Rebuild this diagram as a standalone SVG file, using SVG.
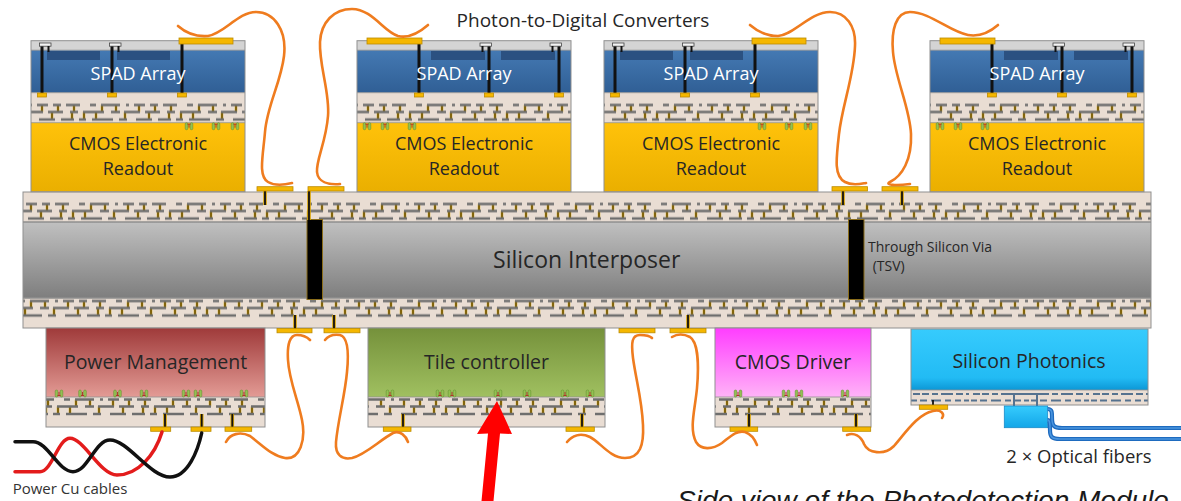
<svg xmlns="http://www.w3.org/2000/svg" width="1181" height="501" viewBox="0 0 1181 501">
<style>
.lbl{font-family:'Open Sans','Noto Sans',sans-serif;fill:#262626;text-anchor:middle}
.spad{fill:#fff;font-size:18px}
.cmos{font-size:18px}
.chip{font-size:19.5px}
.edge{fill:none;stroke:#8f8f8f;stroke-width:1}
.sep{stroke:#8f8f8f;stroke-width:0.8;fill:none}
.beige{fill:#e9ddd3}
.pad{fill:#f5b700;stroke:#bb8a00;stroke-width:0.8}
.leadY{stroke:#d9a300;stroke-width:3.6;fill:none}
.lead{stroke:#111;stroke-width:1.8;fill:none}
.bond{fill:none;stroke:#ef7c1f;stroke-width:2.6;stroke-linecap:round;stroke-linejoin:round}
.spot{fill:#2b5181}
.tsv{fill:#000;stroke:#8a6d1a;stroke-width:1}
</style>
<defs>
  <linearGradient id="gSpad" x1="0" y1="0" x2="0" y2="1"><stop offset="0" stop-color="#4479b3"/><stop offset="1" stop-color="#305f95"/></linearGradient>
  <linearGradient id="gCmos" x1="0" y1="0" x2="0" y2="1"><stop offset="0" stop-color="#ffc20a"/><stop offset="1" stop-color="#eaaf00"/></linearGradient>
  <linearGradient id="gSi" x1="0" y1="0" x2="0" y2="1"><stop offset="0" stop-color="#c0c0c0"/><stop offset="1" stop-color="#7e7e7e"/></linearGradient>
  <linearGradient id="gPM" x1="0" y1="0" x2="0" y2="1"><stop offset="0" stop-color="#9f3a3a"/><stop offset="1" stop-color="#e39b95"/></linearGradient>
  <linearGradient id="gTC" x1="0" y1="0" x2="0" y2="1"><stop offset="0" stop-color="#75913b"/><stop offset="1" stop-color="#a0c060"/></linearGradient>
  <linearGradient id="gCD" x1="0" y1="0" x2="0" y2="1"><stop offset="0" stop-color="#ff3dff"/><stop offset="1" stop-color="#ffb3f7"/></linearGradient>
  <linearGradient id="gSP" x1="0" y1="0" x2="0" y2="1"><stop offset="0" stop-color="#36cbfd"/><stop offset="0.8" stop-color="#22bbf4"/><stop offset="1" stop-color="#0c97d6"/></linearGradient>
  <linearGradient id="gCpl" x1="0" y1="0" x2="0" y2="1"><stop offset="0" stop-color="#36cbfd"/><stop offset="1" stop-color="#12a6e8"/></linearGradient>

  <!-- metal routing layers: three rows of traces with vias between them -->
  <pattern id="wp" width="97" height="30" patternUnits="userSpaceOnUse">
    <path d="M8 2.5V9.5M24 2.5V9.5M40 2.5V9.5M68 2.5V9.5M82 2.5V9.5M18 9.5V17M38 9.5V17M50 9.5V17M62 9.5V17M91 9.5V17" stroke="#d9a300" stroke-width="2.4"/>
    <path d="M8 2.5V9.5M24 2.5V9.5M40 2.5V9.5M68 2.5V9.5M82 2.5V9.5M18 9.5V17M38 9.5V17M50 9.5V17M62 9.5V17M91 9.5V17" stroke="#1a1a1a" stroke-width="0.9"/>
    <path d="M3 2.5H14M19 2.5H27M32 2.5H46M56 2.5H62M67 2.5H86M92 2.5H95M0 9.5H9M14 9.5H29M36 9.5H44M49 9.5H70M77 9.5H86M90 9.5H97M5 17H21M27 17H40M45 17H52M58 17H79M85 17H93" stroke="#6e6e6e" stroke-width="2.6"/>
  </pattern>
  <pattern id="wTile" href="#wp" x="3" y="102.5"/>
  <pattern id="wTop" href="#wp" x="23" y="201.5"/>
  <pattern id="wBot" href="#wp" x="60" y="298.5"/>
  <pattern id="wChip" href="#wp" x="8" y="397"/>
  <pattern id="wSp" width="60" height="15" patternUnits="userSpaceOnUse" x="911" y="390">
    <path d="M2 4H9M11 4H18M21 4H27M30 4H42M45 4H52M55 4H58M0 10.5H6M9 10.5H16M20 10.5H30M34 10.5H40M44 10.5H50M53 10.5H58" stroke="#55728f" stroke-width="2"/>
  </pattern>

  <!-- micro-bump -->
  <g id="bump">
    <rect x="-3.8" y="0" width="2.6" height="7" rx="1.2" fill="#93c052" stroke="#5d8c2e" stroke-width="0.5"/>
    <rect x="1.2" y="0" width="2.6" height="7" rx="1.2" fill="#93c052" stroke="#5d8c2e" stroke-width="0.5"/>
    <path d="M-1.6 1.5H1.6M0 1.5V5" stroke="#b0392a" stroke-width="1"/>
  </g>
  <!-- through-sensor via with landing pad -->
  <g id="via">
    <path d="M0 44V93" stroke="#111" stroke-width="3"/>
    <rect x="-4.5" y="93" width="9" height="4" class="pad"/>
  </g>
  <g id="cap">
    <rect x="-2.5" y="43" width="11.5" height="3.2" fill="#f4f4f4" stroke="#444" stroke-width="0.8"/>
    <path d="M6.5 46V52" stroke="#111" stroke-width="2"/>
  </g>
  <!-- photon-to-digital converter stack -->
  <g id="pdcBody">
    <rect y="40.7" width="214" height="9.5" fill="#d4d4d4"/>
    <rect y="50.2" width="214" height="42.5" fill="url(#gSpad)"/>
    <rect y="92.7" width="214" height="30" class="beige"/>
    <rect y="92.7" width="214" height="30" fill="url(#wTile)"/>
    <rect y="122.7" width="214" height="69" fill="url(#gCmos)"/>
    <path d="M0 50.2H214M0 92.7H214M0 122.7H214" class="sep"/>
    <rect y="40.7" width="214" height="151" class="edge"/>
  </g>
</defs>

<rect width="1181" height="501" fill="#fff"/>

<!-- silicon interposer -->
<g id="interposer">
  <rect x="23" y="192" width="1128" height="30" class="beige"/>
  <rect x="23" y="192" width="1128" height="30" fill="url(#wTop)"/>
  <rect x="23" y="222" width="1128" height="76" fill="url(#gSi)"/>
  <rect x="23" y="298" width="1128" height="30" class="beige"/>
  <rect x="23" y="298" width="1128" height="30" fill="url(#wBot)"/>
  <path d="M23 222H1151M23 298H1151" stroke="#8f8f8f" stroke-width="1.5"/>
  <rect x="23" y="192" width="1128" height="136" class="edge"/>
  <rect x="307" y="219.5" width="15.5" height="80" class="tsv"/>
  <rect x="848.5" y="219.5" width="15.5" height="80" class="tsv"/>
  <path d="M265 191V205M309 191V220M843 191V205M902 191V205M295 315V329M334 315V329M688 315V329" class="leadY"/>
  <path d="M265 191V205M309 191V220M843 191V205M902 191V205M295 315V329M334 315V329M688 315V329" class="lead"/>
  <rect x="257" y="186.7" width="36" height="4.3" class="pad"/>
  <rect x="308" y="186.7" width="36" height="4.3" class="pad"/>
  <rect x="832" y="186.7" width="35.5" height="4.3" class="pad"/>
  <rect x="882" y="186.7" width="36" height="4.3" class="pad"/>
  <rect x="277" y="328.5" width="35" height="4.3" class="pad"/>
  <rect x="324" y="328.5" width="36" height="4.3" class="pad"/>
  <rect x="619" y="328.5" width="36" height="4.3" class="pad"/>
  <rect x="670" y="328.5" width="36" height="4.3" class="pad"/>
  <text class="lbl" x="586.7" y="268.3" font-size="23">Silicon Interposer</text>
  <text class="lbl" x="868" y="251.7" font-size="14" style="text-anchor:start">Through Silicon Via</text>
  <text class="lbl" x="872.7" y="271" font-size="14" style="text-anchor:start">(TSV)</text>
</g>

<!-- photon-to-digital converters -->
<g id="pdc-1" transform="translate(31,0)">
  <use href="#pdcBody"/>
  <rect x="16" y="51" width="53" height="9" class="spot"/>
  <rect x="86" y="51" width="53" height="9" class="spot"/>
  <use href="#via" x="11"/><use href="#cap" x="11"/>
  <use href="#via" x="81"/><use href="#cap" x="81"/>
  <use href="#via" x="151"/>
  <rect x="148" y="38" width="54" height="6" class="pad"/>
  <use href="#bump" transform="translate(158,122.7)"/>
  <use href="#bump" transform="translate(185,122.7)"/>
  <use href="#bump" transform="translate(204,122.7)"/>
  <text class="lbl spad" x="107" y="80">SPAD Array</text>
  <text class="lbl cmos" x="107" y="150">CMOS Electronic</text>
  <text class="lbl cmos" x="107" y="175">Readout</text>
</g>
<g id="pdc-2" transform="translate(357,0)">
  <use href="#pdcBody"/>
  <rect x="74" y="51" width="54" height="9" class="spot"/>
  <rect x="144" y="51" width="54" height="9" class="spot"/>
  <use href="#via" x="62"/>
  <use href="#via" x="132"/><use href="#cap" transform="translate(132,0) scale(-1,1)"/>
  <use href="#via" x="202"/><use href="#cap" transform="translate(202,0) scale(-1,1)"/>
  <rect x="10" y="38" width="55" height="6" class="pad"/>
  <use href="#bump" transform="translate(10,122.7)"/>
  <use href="#bump" transform="translate(28,122.7)"/>
  <use href="#bump" transform="translate(55,122.7)"/>
  <text class="lbl spad" x="107" y="80">SPAD Array</text>
  <text class="lbl cmos" x="107" y="150">CMOS Electronic</text>
  <text class="lbl cmos" x="107" y="175">Readout</text>
</g>
<g id="pdc-3" transform="translate(604,0)">
  <use href="#pdcBody"/>
  <rect x="16" y="51" width="53" height="9" class="spot"/>
  <rect x="86" y="51" width="53" height="9" class="spot"/>
  <use href="#via" x="11"/><use href="#cap" x="11"/>
  <use href="#via" x="81"/><use href="#cap" x="81"/>
  <use href="#via" x="151"/>
  <rect x="148" y="38" width="54" height="6" class="pad"/>
  <use href="#bump" transform="translate(158,122.7)"/>
  <use href="#bump" transform="translate(185,122.7)"/>
  <use href="#bump" transform="translate(204,122.7)"/>
  <text class="lbl spad" x="107" y="80">SPAD Array</text>
  <text class="lbl cmos" x="107" y="150">CMOS Electronic</text>
  <text class="lbl cmos" x="107" y="175">Readout</text>
</g>
<g id="pdc-4" transform="translate(930,0)">
  <use href="#pdcBody"/>
  <rect x="74" y="51" width="54" height="9" class="spot"/>
  <rect x="144" y="51" width="54" height="9" class="spot"/>
  <use href="#via" x="62"/>
  <use href="#via" x="132"/><use href="#cap" transform="translate(132,0) scale(-1,1)"/>
  <use href="#via" x="202"/><use href="#cap" transform="translate(202,0) scale(-1,1)"/>
  <rect x="10" y="38" width="55" height="6" class="pad"/>
  <use href="#bump" transform="translate(10,122.7)"/>
  <use href="#bump" transform="translate(28,122.7)"/>
  <use href="#bump" transform="translate(55,122.7)"/>
  <text class="lbl spad" x="107" y="80">SPAD Array</text>
  <text class="lbl cmos" x="107" y="150">CMOS Electronic</text>
  <text class="lbl cmos" x="107" y="175">Readout</text>
</g>

<!-- power management die -->
<g id="power-management">
  <rect x="46" y="328" width="219" height="69" fill="url(#gPM)"/>
  <rect x="46" y="397" width="219" height="30" class="beige"/>
  <rect x="46" y="397" width="219" height="30" fill="url(#wChip)"/>
  <path d="M46 397H265" class="sep"/>
  <rect x="46" y="328" width="219" height="99" class="edge"/>
  <use href="#bump" transform="translate(59,397) scale(1,-1)"/>
  <use href="#bump" transform="translate(82.5,397) scale(1,-1)"/>
  <use href="#bump" transform="translate(117.5,397) scale(1,-1)"/>
  <use href="#bump" transform="translate(144,397) scale(1,-1)"/>
  <use href="#bump" transform="translate(186,397) scale(1,-1)"/>
  <use href="#bump" transform="translate(198,397) scale(1,-1)"/>
  <use href="#bump" transform="translate(244,397) scale(1,-1)"/>
  <path d="M165 414V427M201.7 414V427M232.3 414V427" class="leadY"/>
  <path d="M165 414V427M201.7 414V427M232.3 414V427" class="lead"/>
  <rect x="150.7" y="427" width="20" height="4.3" class="pad"/>
  <rect x="191" y="427" width="20" height="4.3" class="pad"/>
  <rect x="225" y="427" width="26.7" height="4.3" class="pad"/>
  <text class="lbl chip" x="155.5" y="368.5">Power Management</text>
</g>

<!-- tile controller die -->
<g id="tile-controller">
  <rect x="368" y="328" width="237" height="69" fill="url(#gTC)"/>
  <rect x="368" y="397" width="237" height="30" class="beige"/>
  <rect x="368" y="397" width="237" height="30" fill="url(#wChip)"/>
  <path d="M368 397H605" class="sep"/>
  <rect x="368" y="328" width="237" height="99" class="edge"/>
  <use href="#bump" transform="translate(390,397) scale(1,-1)"/>
  <use href="#bump" transform="translate(440,397) scale(1,-1)"/>
  <use href="#bump" transform="translate(452,397) scale(1,-1)"/>
  <use href="#bump" transform="translate(498,397) scale(1,-1)"/>
  <use href="#bump" transform="translate(527,397) scale(1,-1)"/>
  <use href="#bump" transform="translate(565,397) scale(1,-1)"/>
  <use href="#bump" transform="translate(590,397) scale(1,-1)"/>
  <path d="M403 414V427M582 414V427" class="leadY"/>
  <path d="M403 414V427M582 414V427" class="lead"/>
  <rect x="383.3" y="427" width="27.7" height="4.3" class="pad"/>
  <rect x="566" y="427" width="28.3" height="4.3" class="pad"/>
  <text class="lbl chip" x="486.5" y="369">Tile controller</text>
</g>

<!-- CMOS driver die -->
<g id="cmos-driver">
  <rect x="715" y="328" width="156" height="69" fill="url(#gCD)"/>
  <rect x="715" y="397" width="156" height="30" class="beige"/>
  <rect x="715" y="397" width="156" height="30" fill="url(#wChip)"/>
  <path d="M715 397H871" class="sep"/>
  <rect x="715" y="328" width="156" height="99" class="edge"/>
  <use href="#bump" transform="translate(738,397) scale(1,-1)"/>
  <use href="#bump" transform="translate(786,397) scale(1,-1)"/>
  <use href="#bump" transform="translate(799,397) scale(1,-1)"/>
  <use href="#bump" transform="translate(845,397) scale(1,-1)"/>
  <path d="M749 414V427M856 414V427" class="leadY"/>
  <path d="M749 414V427M856 414V427" class="lead"/>
  <rect x="730" y="427" width="27.7" height="4.3" class="pad"/>
  <rect x="842.7" y="427" width="28" height="4.3" class="pad"/>
  <text class="lbl chip" x="793" y="369">CMOS Driver</text>
</g>

<!-- silicon photonics die with fibre coupler -->
<g id="silicon-photonics">
  <rect x="911" y="329" width="237" height="61" fill="url(#gSP)"/>
  <rect x="911" y="390" width="237" height="15" class="beige"/>
  <rect x="911" y="390" width="237" height="15" fill="url(#wSp)"/>
  <path d="M911 390H1148" class="sep"/>
  <rect x="911" y="329" width="237" height="76" class="edge"/>
  <path d="M1008 394H1043M1014 394V406M1037 394V406" stroke="#55728f" stroke-width="2" fill="none"/>
  <path d="M933 400V405" class="lead"/>
  <rect x="919.3" y="405" width="28.4" height="4.3" class="pad"/>
  <rect x="1004.3" y="406" width="43.4" height="21.7" fill="url(#gCpl)" stroke="#1a8ac8" stroke-width="0.8"/>
  <text class="lbl chip" x="1029" y="368.3">Silicon Photonics</text>
</g>

<!-- wire bonds, power leads and optical fibres -->
<g id="connectors">
  <path class="bond" d="M178,26 C186,33 196,37 208,36 C224,34 238,12 256,12 C274,12 287,30 284,56 C281,82 267,106 265,132 C263,156 258,176 268,182 C275,186 284,185 292,183"/>
  <path class="bond" d="M428,25 C420,32 410,39 398,36 C384,32 372,9 352,9 C334,9 321,22 320,42 C319,66 330,92 328,116 C326,142 316,160 317,172 C318,182 328,185 340,184"/>
  <path class="bond" d="M750,25 C758,32 766,36 778,36 C794,35 810,12 830,12 C846,12 856,26 855,46 C854,76 842,106 839,134 C836,160 834,176 845,182 C852,186 860,184 866,183"/>
  <path class="bond" d="M998,25 C990,32 980,37 968,35 C950,32 930,12 910,12 C896,12 891,30 893,52 C895,78 910,108 911,134 C912,160 902,176 890,182 C884,185 896,186 910,184"/>
  <path class="bond" d="M226,442 C230,434 240,431 250,436 C262,445 272,456 285,458 C300,460 306,440 302,420 C298,400 289,380 288,360 C287,344 290,335 297,335 C303,335 307,337 310,340"/>
  <path class="bond" d="M325,340 C328,336 333,334 340,335 C348,337 349,352 347,372 C345,395 338,420 336,442 C335,455 342,460 352,458 C365,455 380,440 393,433 C400,430 406,436 408,442"/>
  <path class="bond" d="M567,442 C572,436 580,432 590,437 C600,442 610,458 625,458 C640,458 644,445 643,425 C642,400 636,380 633,358 C631,342 632,335 640,335 C645,335 650,336 652,338"/>
  <path class="bond" d="M672,337 C677,334 684,334 690,337 C698,342 699,365 697,388 C695,410 689,428 696,442 C701,450 712,450 722,443 C730,437 736,430 745,432 C751,434 755,440 757,445"/>
  <path class="bond" d="M847,435 C854,432 861,436 864,444 C868,453 884,456 894,446 C906,432 918,414 933,411 C941,409 945,414 942,418"/>
  <path d="M15,471.7 L40,471.7 C52,471.7 58,438.3 70,438.3 C84,438.3 100,475 117,475 C138,475 155,455 162,432" fill="none" stroke="#e31c1c" stroke-width="3.5" stroke-linecap="round"/>
  <path d="M15,441.7 L33,441.7 C48,441.7 58,471.7 73,471.7 C88,471.7 95,440 110,440 C128,440 150,477 170,477 C188,477 198,450 201.7,433" fill="none" stroke="#111" stroke-width="3.5" stroke-linecap="round"/>
  <g fill="none" stroke-linejoin="round">
    <path d="M1047.7,409 C1052,409 1052,412 1052,418 C1052,426 1054,428 1062,428 L1181,428 M1047.7,420 C1050,420 1050,424 1050,430 C1050,437 1052,439 1060,439 L1181,439" stroke="#1e6bbf" stroke-width="4.2"/>
    <path d="M1047.7,409 C1052,409 1052,412 1052,418 C1052,426 1054,428 1062,428 L1181,428 M1047.7,420 C1050,420 1050,424 1050,430 C1050,437 1052,439 1060,439 L1181,439" stroke="#4b96e0" stroke-width="1.5"/>
  </g>
</g>

<!-- annotation arrow -->
<polygon id="pointer" points="497,401 512,434 500,433.5 493.5,501 481.5,501 488,433.5 477,434" fill="#ff0000"/>

<!-- free labels -->
<g id="labels">
  <text class="lbl" x="583" y="26.7" font-size="19">Photon-to-Digital Converters</text>
  <text class="lbl" x="1079" y="462.7" font-size="18.5">2 × Optical fibers</text>
  <text class="lbl" x="12.7" y="494.3" font-size="15" style="text-anchor:start;fill:#333">Power Cu cables</text>
  <text x="677" y="510" font-family="'Liberation Sans',Arial,sans-serif" font-style="italic" font-size="28" fill="#1a1a1a">Side view of the Photodetection Module</text>
</g>
</svg>
